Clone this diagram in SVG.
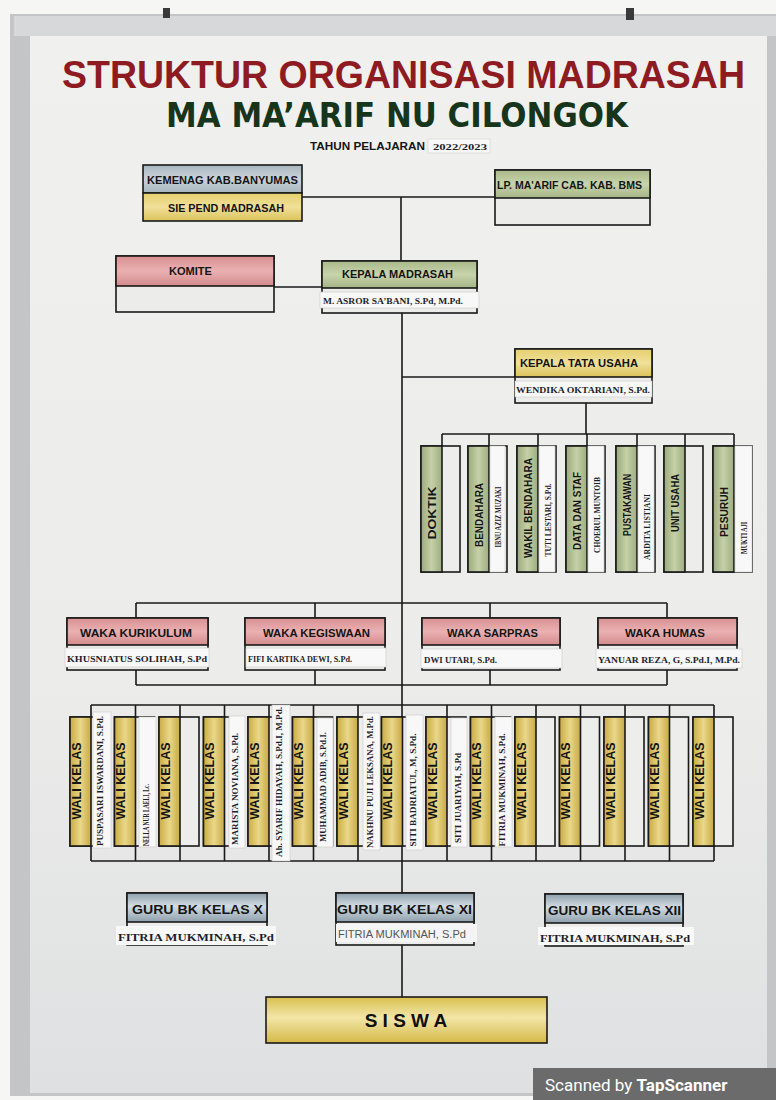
<svg xmlns="http://www.w3.org/2000/svg" width="776" height="1100" viewBox="0 0 776 1100">
<defs>
<style>
.b{stroke:#1a1a1a;stroke-width:1.6;}
.ln{stroke:#1a1a1a;stroke-width:1.6;fill:none;}
.t{font-family:"Liberation Sans",Arial,sans-serif;font-weight:bold;fill:#151515;}
.s{font-family:"Liberation Serif","Times New Roman",serif;font-weight:bold;fill:#1e1e2a;}
.stk{fill:#f8f8f8;stroke:#c9c9c9;stroke-width:0.6;}
.wp{fill:#ededeb;}
</style>
<linearGradient id="board" x1="0" y1="0" x2="0" y2="1"><stop offset="0" stop-color="#f0f0ef"/><stop offset="0.6" stop-color="#ececeb"/><stop offset="1" stop-color="#dfe0e1"/></linearGradient>
<linearGradient id="gBlue" x1="0" y1="0" x2="0" y2="1"><stop offset="0" stop-color="#a9b6bf"/><stop offset="0.5" stop-color="#c9d3d9"/><stop offset="1" stop-color="#a7b5bf"/></linearGradient>
<linearGradient id="gYel" x1="0" y1="0" x2="0" y2="1"><stop offset="0" stop-color="#e6cf6e"/><stop offset="0.5" stop-color="#f0e09a"/><stop offset="1" stop-color="#dbc25a"/></linearGradient>
<linearGradient id="gGrn" x1="0" y1="0" x2="0" y2="1"><stop offset="0" stop-color="#a9b889"/><stop offset="0.5" stop-color="#c8d3ab"/><stop offset="1" stop-color="#a5b585"/></linearGradient>
<linearGradient id="gPnk" x1="0" y1="0" x2="0" y2="1"><stop offset="0" stop-color="#d98f91"/><stop offset="0.5" stop-color="#eab1b2"/><stop offset="1" stop-color="#d38a8c"/></linearGradient>
<linearGradient id="gSG" x1="0" y1="0" x2="1" y2="0"><stop offset="0" stop-color="#9aaa7c"/><stop offset="0.5" stop-color="#c6d0a8"/><stop offset="1" stop-color="#9dad80"/></linearGradient>
<linearGradient id="gWY" x1="0" y1="0" x2="1" y2="0"><stop offset="0" stop-color="#c9ab42"/><stop offset="0.5" stop-color="#ead78a"/><stop offset="1" stop-color="#c7a943"/></linearGradient>
<linearGradient id="gBK" x1="0" y1="0" x2="0" y2="1"><stop offset="0" stop-color="#8e9fab"/><stop offset="0.45" stop-color="#d2dce2"/><stop offset="1" stop-color="#8fa0ac"/></linearGradient>
<linearGradient id="gSis" x1="0" y1="0" x2="0" y2="1"><stop offset="0" stop-color="#d9bf4f"/><stop offset="0.45" stop-color="#f2e6a8"/><stop offset="1" stop-color="#d4b847"/></linearGradient>
</defs>

<!-- frame and board -->
<rect x="0" y="0" width="776" height="1100" fill="#f6f6f4"/>
<rect x="10" y="14" width="766" height="1082" fill="#c3c5c7"/>
<rect x="14" y="16" width="762" height="20" fill="#d6d8d9"/>
<rect x="30" y="36" width="737" height="1057" fill="url(#board)"/>
<rect x="163" y="8" width="7" height="10" fill="#3a3a3a"/>
<rect x="626" y="8" width="8" height="12" fill="#3a3a3a"/>

<!-- titles -->
<g id="title">
<text x="62" y="88" class="t" font-size="38" style="fill:#8e1b22" textLength="683" lengthAdjust="spacingAndGlyphs">STRUKTUR ORGANISASI MADRASAH</text>
<text x="166" y="127" font-family="'DejaVu Sans','Liberation Sans',sans-serif" font-weight="bold" font-size="33" fill="#17351a" textLength="462" lengthAdjust="spacingAndGlyphs">MA MA’ARIF NU CILONGOK</text>
<text x="310" y="150" class="t" font-size="11" textLength="115" lengthAdjust="spacingAndGlyphs">TAHUN PELAJARAN</text>
<rect x="428" y="139" width="62" height="14" fill="#f8f8f8" stroke="#cfcfcf" stroke-width="0.6"/>
<text x="433" y="149.5" class="s" font-size="8" textLength="54" lengthAdjust="spacingAndGlyphs">2022/2023</text>
</g>

<!-- connectors -->
<g id="connectors" class="ln">
<path d="M302 197H495M401 197V261M274 287H322"/>
<path d="M402 313V893M402 943V997"/>
<path d="M402 377H515M586 403V434M442 434H734"/>
<path d="M442 434V446M489 434V446M538 434V446M587 434V446M637 434V446M685 434V446M734 434V446"/>
<path d="M136 603H667M136 603V618M315 603V618M490 603V618M667 603V618"/>
<path d="M136 685H667M136 670V685M315 670V685M490 670V685M667 670V685"/>
<path d="M91 705H714M91 861H714"/>
<path d="M91 705V861M135.5 705V861M180 705V861M224.5 705V861M269 705V861M313.5 705V861M358 705V861M447 705V861M491.5 705V861M536 705V861M580.5 705V861M625 705V861M669.5 705V861M714 705V861"/>
</g>

<!-- top level -->
<g id="kemenag">
<rect x="143" y="165" width="159" height="28" fill="url(#gBlue)" class="b"/>
<rect x="143" y="193" width="159" height="28" fill="url(#gYel)" class="b"/>
<text x="147" y="184" class="t" font-size="11" textLength="151" lengthAdjust="spacingAndGlyphs">KEMENAG  KAB.BANYUMAS</text>
<text x="168" y="212" class="t" font-size="11" textLength="116" lengthAdjust="spacingAndGlyphs">SIE PEND MADRASAH</text>
</g>
<g id="lpmaarif">
<rect x="495" y="170" width="155" height="55" fill="#ececea" class="b"/>
<rect x="495" y="170" width="155" height="28" fill="url(#gGrn)" class="b"/>
<text x="497" y="189" class="t" font-size="10.5" textLength="145" lengthAdjust="spacingAndGlyphs">LP. MA'ARIF CAB. KAB. BMS</text>
</g>
<g id="komite">
<rect x="116" y="256" width="158" height="56" fill="#ececea" class="b"/>
<rect x="116" y="256" width="158" height="30" fill="url(#gPnk)" class="b"/>
<text x="169" y="275" class="t" font-size="11" textLength="43" lengthAdjust="spacingAndGlyphs">KOMITE</text>
</g>
<g id="kepala">
<rect x="322" y="261" width="155" height="52" fill="#ececea" class="b"/>
<rect x="322" y="261" width="155" height="27" fill="url(#gGrn)" class="b"/>
<text x="342" y="278" class="t" font-size="11" textLength="111" lengthAdjust="spacingAndGlyphs">KEPALA MADRASAH</text>
<rect x="320" y="292" width="159" height="16" class="stk"/>
<text x="323" y="304" class="s" font-size="8" textLength="140" lengthAdjust="spacingAndGlyphs">M. ASROR SA’BANI, S.Pd, M.Pd.</text>
</g>
<g id="kepala-tu">
<rect x="515" y="349" width="137" height="54" fill="#ececea" class="b"/>
<rect x="515" y="349" width="137" height="28" fill="url(#gYel)" class="b"/>
<text x="520" y="367" class="t" font-size="11" textLength="118" lengthAdjust="spacingAndGlyphs">KEPALA TATA USAHA</text>
<rect x="515" y="381" width="137" height="16" class="stk"/>
<text x="516" y="392.5" class="s" font-size="8.5" textLength="134" lengthAdjust="spacingAndGlyphs">WENDIKA OKTARIANI, S.Pd.</text>
</g>

<!-- staff columns -->
<g id="staff-doktik">
<rect x="421" y="446" width="39" height="126" class="b wp"/>
<rect x="421" y="446" width="21" height="126" fill="url(#gSG)" class="b"/>
<text transform="translate(435.5,513) rotate(-90)" text-anchor="middle" class="t" font-size="11" textLength="53" lengthAdjust="spacingAndGlyphs">DOKTIK</text>
</g>
<g id="staff-bendahara">
<rect x="468" y="446" width="39" height="126" class="b wp"/>
<rect x="468" y="446" width="21" height="126" fill="url(#gSG)" class="b"/>
<rect x="490" y="446" width="15" height="126" class="stk"/>
<text transform="translate(482.5,515) rotate(-90)" text-anchor="middle" class="t" font-size="11" textLength="64" lengthAdjust="spacingAndGlyphs">BENDAHARA</text>
<text transform="translate(501,517) rotate(-90)" text-anchor="middle" class="s" font-size="9" textLength="61" lengthAdjust="spacingAndGlyphs">IBNU AZIZ MUZAKI</text>
</g>
<g id="staff-wakil-bendahara">
<rect x="517" y="446" width="39" height="126" class="b wp"/>
<rect x="517" y="446" width="21" height="126" fill="url(#gSG)" class="b"/>
<rect x="539" y="446" width="16" height="126" class="stk"/>
<text transform="translate(531.5,508) rotate(-90)" text-anchor="middle" class="t" font-size="11" textLength="100" lengthAdjust="spacingAndGlyphs">WAKIL BENDAHARA</text>
<text transform="translate(550.5,520) rotate(-90)" text-anchor="middle" class="s" font-size="9" textLength="73" lengthAdjust="spacingAndGlyphs">TUTI LESTARI, S.Pd.</text>
</g>
<g id="staff-data">
<rect x="566" y="446" width="39" height="126" class="b wp"/>
<rect x="566" y="446" width="21" height="126" fill="url(#gSG)" class="b"/>
<rect x="588" y="446" width="16" height="126" class="stk"/>
<text transform="translate(580.5,511) rotate(-90)" text-anchor="middle" class="t" font-size="11" textLength="78" lengthAdjust="spacingAndGlyphs">DATA DAN STAF</text>
<text transform="translate(599.5,515) rotate(-90)" text-anchor="middle" class="s" font-size="9" textLength="76" lengthAdjust="spacingAndGlyphs">CHOERUL MUNTOIB</text>
</g>
<g id="staff-pustakawan">
<rect x="616" y="446" width="39" height="126" class="b wp"/>
<rect x="616" y="446" width="21" height="126" fill="url(#gSG)" class="b"/>
<rect x="638" y="446" width="16" height="126" class="stk"/>
<text transform="translate(630.5,505) rotate(-90)" text-anchor="middle" class="t" font-size="11" textLength="62" lengthAdjust="spacingAndGlyphs">PUSTAKAWAN</text>
<text transform="translate(649.5,527) rotate(-90)" text-anchor="middle" class="s" font-size="9" textLength="66" lengthAdjust="spacingAndGlyphs">ARDITA LISTIANI</text>
</g>
<g id="staff-unit-usaha">
<rect x="664" y="446" width="39" height="126" class="b wp"/>
<rect x="664" y="446" width="21" height="126" fill="url(#gSG)" class="b"/>
<text transform="translate(678.5,503) rotate(-90)" text-anchor="middle" class="t" font-size="11" textLength="58" lengthAdjust="spacingAndGlyphs">UNIT USAHA</text>
</g>
<g id="staff-pesuruh">
<rect x="713" y="446" width="39" height="126" class="b wp"/>
<rect x="713" y="446" width="21" height="126" fill="url(#gSG)" class="b"/>
<rect x="735" y="446" width="17" height="126" class="stk"/>
<text transform="translate(727.5,512) rotate(-90)" text-anchor="middle" class="t" font-size="11" textLength="50" lengthAdjust="spacingAndGlyphs">PESURUH</text>
<text transform="translate(747,538) rotate(-90)" text-anchor="middle" class="s" font-size="9" textLength="32" lengthAdjust="spacingAndGlyphs">MUKTI AJI</text>
</g>

<!-- waka row -->
<g id="waka-kurikulum">
<rect x="67" y="618" width="141" height="52" fill="#ececea" class="b"/>
<rect x="67" y="618" width="141" height="27" fill="url(#gPnk)" class="b"/>
<text x="80" y="637" class="t" font-size="11" textLength="112" lengthAdjust="spacingAndGlyphs">WAKA KURIKULUM</text>
<rect x="65" y="648" width="144" height="19" class="stk"/>
<text x="67" y="661.5" class="s" font-size="9" textLength="140" lengthAdjust="spacingAndGlyphs">KHUSNIATUS SOLIHAH, S.Pd</text>
</g>
<g id="waka-kesiswaan">
<rect x="245" y="618" width="140" height="52" fill="#ececea" class="b"/>
<rect x="245" y="618" width="140" height="27" fill="url(#gPnk)" class="b"/>
<text x="263" y="637" class="t" font-size="11" textLength="107" lengthAdjust="spacingAndGlyphs">WAKA KEGISWAAN</text>
<rect x="246" y="648" width="140" height="19" class="stk"/>
<text x="248" y="661.5" class="s" font-size="9" textLength="104" lengthAdjust="spacingAndGlyphs">FIFI KARTIKA DEWI, S.Pd.</text>
</g>
<g id="waka-sarpras">
<rect x="422" y="618" width="138" height="52" fill="#ececea" class="b"/>
<rect x="422" y="618" width="138" height="27" fill="url(#gPnk)" class="b"/>
<text x="447" y="637" class="t" font-size="11" textLength="91" lengthAdjust="spacingAndGlyphs">WAKA SARPRAS</text>
<rect x="421" y="649" width="141" height="19" class="stk"/>
<text x="424" y="662.5" class="s" font-size="9" textLength="73" lengthAdjust="spacingAndGlyphs">DWI UTARI, S.Pd.</text>
</g>
<g id="waka-humas">
<rect x="598" y="618" width="139" height="52" fill="#ececea" class="b"/>
<rect x="598" y="618" width="139" height="27" fill="url(#gPnk)" class="b"/>
<text x="625" y="637" class="t" font-size="11" textLength="80" lengthAdjust="spacingAndGlyphs">WAKA HUMAS</text>
<rect x="596" y="649" width="146" height="19" class="stk"/>
<text x="598" y="662.5" class="s" font-size="9" textLength="142" lengthAdjust="spacingAndGlyphs">YANUAR REZA, G, S.Pd.I, M.Pd.</text>
</g>

<!-- wali kelas row -->
<g id="wali-1"><rect x="70" y="717" width="40" height="129" class="b wp"/><rect x="70" y="717" width="21" height="129" fill="url(#gWY)" class="b"/><rect x="93" y="712" width="18" height="136" class="stk"/><text transform="translate(80.5,781) rotate(-90)" text-anchor="middle" class="t" font-size="12" textLength="77" lengthAdjust="spacingAndGlyphs">WALI KELAS</text><text transform="translate(102.5,781) rotate(-90)" text-anchor="middle" class="s" font-size="9" textLength="130" lengthAdjust="spacingAndGlyphs">PUSPASARI ISWARDANI, S.Pd.</text></g>
<g id="wali-2"><rect x="114.5" y="717" width="40" height="129" class="b wp"/><rect x="114.5" y="717" width="21" height="129" fill="url(#gWY)" class="b"/><rect x="139" y="717" width="17" height="130" class="stk"/><text transform="translate(125,781) rotate(-90)" text-anchor="middle" class="t" font-size="12" textLength="77" lengthAdjust="spacingAndGlyphs">WALI KELAS</text><text transform="translate(148.5,815) rotate(-90)" text-anchor="middle" class="s" font-size="8" textLength="62" lengthAdjust="spacingAndGlyphs">NELLA NUR LAELI, Lc.</text></g>
<g id="wali-3"><rect x="159" y="717" width="40" height="129" class="b wp"/><rect x="159" y="717" width="21" height="129" fill="url(#gWY)" class="b"/><text transform="translate(169.5,781) rotate(-90)" text-anchor="middle" class="t" font-size="12" textLength="77" lengthAdjust="spacingAndGlyphs">WALI KELAS</text></g>
<g id="wali-4"><rect x="203.5" y="717" width="40" height="129" class="b wp"/><rect x="203.5" y="717" width="21" height="129" fill="url(#gWY)" class="b"/><rect x="229" y="716" width="16" height="132" class="stk"/><text transform="translate(214,781) rotate(-90)" text-anchor="middle" class="t" font-size="12" textLength="77" lengthAdjust="spacingAndGlyphs">WALI KELAS</text><text transform="translate(238,789) rotate(-90)" text-anchor="middle" class="s" font-size="9" textLength="112" lengthAdjust="spacingAndGlyphs">MARISTA NOVIANA, S.Pd.</text></g>
<g id="wali-5"><rect x="248" y="717" width="40" height="129" class="b wp"/><rect x="248" y="717" width="21" height="129" fill="url(#gWY)" class="b"/><rect x="272" y="705" width="18" height="156" class="stk"/><text transform="translate(258.5,781) rotate(-90)" text-anchor="middle" class="t" font-size="12" textLength="77" lengthAdjust="spacingAndGlyphs">WALI KELAS</text><text transform="translate(282,782) rotate(-90)" text-anchor="middle" class="s" font-size="9" textLength="150" lengthAdjust="spacingAndGlyphs">Ah. SYARIF HIDAYAH, S.Pd.I, M.Pd.</text></g>
<g id="wali-6"><rect x="292.5" y="717" width="40" height="129" class="b wp"/><rect x="292.5" y="717" width="21" height="129" fill="url(#gWY)" class="b"/><rect x="317" y="718" width="16" height="129" class="stk"/><text transform="translate(326,787) rotate(-90)" text-anchor="middle" class="s" font-size="9" textLength="110" lengthAdjust="spacingAndGlyphs">MUHAMMAD ADIB, S.Pd.I.</text><text transform="translate(303,781) rotate(-90)" text-anchor="middle" class="t" font-size="12" textLength="77" lengthAdjust="spacingAndGlyphs">WALI KELAS</text></g>
<g id="wali-7"><rect x="337" y="717" width="40" height="129" class="b wp"/><rect x="337" y="717" width="21" height="129" fill="url(#gWY)" class="b"/><rect x="363" y="713" width="17" height="137" class="stk"/><text transform="translate(347.5,781) rotate(-90)" text-anchor="middle" class="t" font-size="12" textLength="77" lengthAdjust="spacingAndGlyphs">WALI KELAS</text><text transform="translate(372.5,782) rotate(-90)" text-anchor="middle" class="s" font-size="9" textLength="132" lengthAdjust="spacingAndGlyphs">NAKHNU PUJI LEKSANA, M.Pd.</text></g>
<g id="wali-8"><rect x="381.5" y="717" width="40" height="129" class="b wp"/><rect x="381.5" y="717" width="21" height="129" fill="url(#gWY)" class="b"/><rect x="406" y="715" width="17" height="135" class="stk"/><text transform="translate(392,781) rotate(-90)" text-anchor="middle" class="t" font-size="12" textLength="77" lengthAdjust="spacingAndGlyphs">WALI KELAS</text><text transform="translate(415.5,790) rotate(-90)" text-anchor="middle" class="s" font-size="9" textLength="113" lengthAdjust="spacingAndGlyphs">SITI BADRIATUL, M, S.Pd.</text></g>
<g id="wali-9"><rect x="426" y="717" width="40" height="129" class="b wp"/><rect x="426" y="717" width="21" height="129" fill="url(#gWY)" class="b"/><rect x="451" y="718" width="16" height="129" class="stk"/><text transform="translate(436.5,781) rotate(-90)" text-anchor="middle" class="t" font-size="12" textLength="77" lengthAdjust="spacingAndGlyphs">WALI KELAS</text><text transform="translate(460.5,798) rotate(-90)" text-anchor="middle" class="s" font-size="9" textLength="90" lengthAdjust="spacingAndGlyphs">SITI JUARIYAH, S.Pd</text></g>
<g id="wali-10"><rect x="470.5" y="717" width="40" height="129" class="b wp"/><rect x="470.5" y="717" width="21" height="129" fill="url(#gWY)" class="b"/><rect x="495" y="717" width="17" height="130" class="stk"/><text transform="translate(481,781) rotate(-90)" text-anchor="middle" class="t" font-size="12" textLength="77" lengthAdjust="spacingAndGlyphs">WALI KELAS</text><text transform="translate(504.5,790) rotate(-90)" text-anchor="middle" class="s" font-size="9" textLength="113" lengthAdjust="spacingAndGlyphs">FITRIA MUKMINAH, S.Pd.</text></g>
<g id="wali-11"><rect x="515" y="717" width="40" height="129" class="b wp"/><rect x="515" y="717" width="21" height="129" fill="url(#gWY)" class="b"/><text transform="translate(525.5,781) rotate(-90)" text-anchor="middle" class="t" font-size="12" textLength="77" lengthAdjust="spacingAndGlyphs">WALI KELAS</text></g>
<g id="wali-12"><rect x="559.5" y="717" width="40" height="129" class="b wp"/><rect x="559.5" y="717" width="21" height="129" fill="url(#gWY)" class="b"/><text transform="translate(570,781) rotate(-90)" text-anchor="middle" class="t" font-size="12" textLength="77" lengthAdjust="spacingAndGlyphs">WALI KELAS</text></g>
<g id="wali-13"><rect x="604" y="717" width="40" height="129" class="b wp"/><rect x="604" y="717" width="21" height="129" fill="url(#gWY)" class="b"/><text transform="translate(614.5,781) rotate(-90)" text-anchor="middle" class="t" font-size="12" textLength="77" lengthAdjust="spacingAndGlyphs">WALI KELAS</text></g>
<g id="wali-14"><rect x="648.5" y="717" width="40" height="129" class="b wp"/><rect x="648.5" y="717" width="21" height="129" fill="url(#gWY)" class="b"/><text transform="translate(659,781) rotate(-90)" text-anchor="middle" class="t" font-size="12" textLength="77" lengthAdjust="spacingAndGlyphs">WALI KELAS</text></g>
<g id="wali-15"><rect x="693" y="717" width="40" height="129" class="b wp"/><rect x="693" y="717" width="21" height="129" fill="url(#gWY)" class="b"/><text transform="translate(703.5,781) rotate(-90)" text-anchor="middle" class="t" font-size="12" textLength="77" lengthAdjust="spacingAndGlyphs">WALI KELAS</text></g>

<!-- guru BK -->
<g id="guru-bk-x">
<rect x="127" y="893" width="140" height="52" fill="#ececea" class="b"/>
<rect x="127" y="893" width="140" height="29" fill="url(#gBK)" class="b"/>
<text x="132" y="914" class="t" font-size="13" textLength="131" lengthAdjust="spacingAndGlyphs">GURU BK KELAS X</text>
<rect x="116" y="926" width="160" height="19" fill="#f8f8f8"/>
<text x="118" y="941" class="s" font-size="10" textLength="156" lengthAdjust="spacingAndGlyphs">FITRIA MUKMINAH, S.Pd</text>
</g>
<g id="guru-bk-xi">
<rect x="336" y="893" width="138" height="52" fill="#ececea" class="b"/>
<rect x="336" y="893" width="138" height="29" fill="url(#gBK)" class="b"/>
<text x="337" y="914" class="t" font-size="13" textLength="135" lengthAdjust="spacingAndGlyphs">GURU BK  KELAS XI</text>
<rect x="336" y="924" width="141" height="18" fill="#f4f4f4"/>
<text x="338" y="938" font-family="'Liberation Sans',Arial,sans-serif" font-size="10" fill="#555" textLength="128" lengthAdjust="spacingAndGlyphs">FITRIA MUKMINAH, S.Pd</text>
</g>
<g id="guru-bk-xii">
<rect x="545" y="894" width="138" height="52" fill="#ececea" class="b"/>
<rect x="545" y="894" width="138" height="29" fill="url(#gBK)" class="b"/>
<text x="548" y="915" class="t" font-size="13" textLength="133" lengthAdjust="spacingAndGlyphs">GURU BK KELAS XII</text>
<rect x="538" y="927" width="156" height="18" fill="#f8f8f8"/>
<text x="540" y="942" class="s" font-size="10" textLength="150" lengthAdjust="spacingAndGlyphs">FITRIA MUKMINAH, S.Pd</text>
</g>

<!-- siswa -->
<g id="siswa">
<rect x="266" y="997" width="281" height="46" fill="url(#gSis)" class="b"/>
<text x="406" y="1027" text-anchor="middle" class="t" font-size="19" style="fill:#111">S  I  S  W  A</text>
</g>

<!-- scanner stamp -->
<g id="stamp">
<rect x="533" y="1068" width="243" height="32" fill="#6b6b6b"/>
<text x="545" y="1091" font-family="Roboto,'Liberation Sans',Arial,sans-serif" font-size="17" fill="#ffffff">Scanned by <tspan font-weight="bold">TapScanner</tspan></text>
</g>
</svg>
